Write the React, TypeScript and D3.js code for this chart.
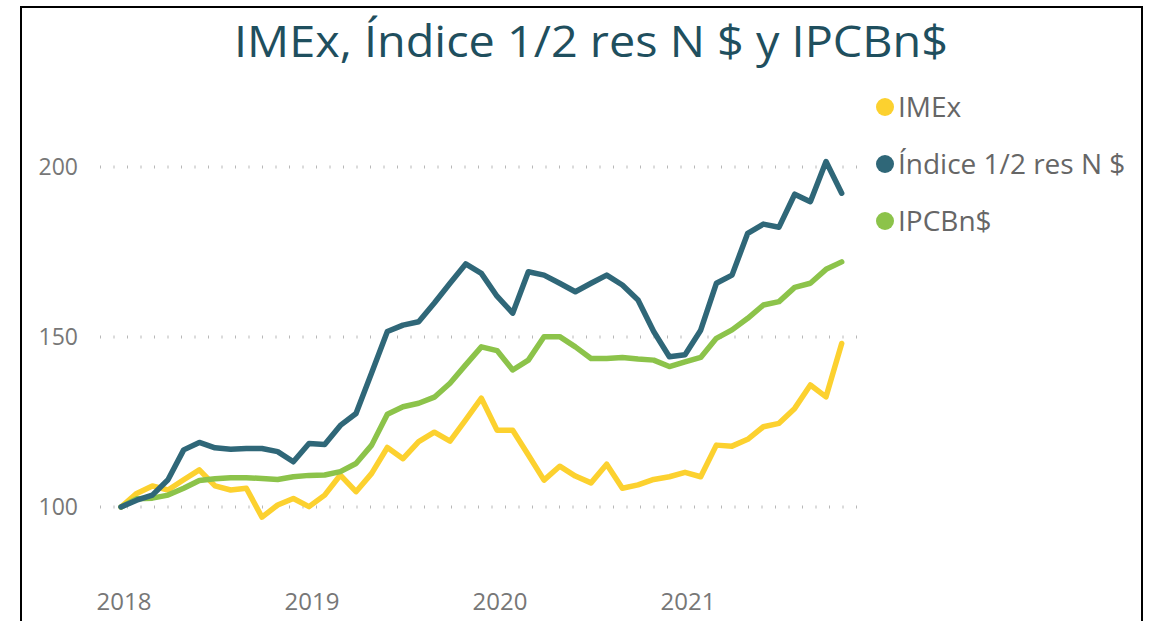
import React from "react";
import * as d3 from "d3";

const title = "IMEx, Índice 1/2 res N $ y IPCBn$";
const seriesNames = ["IMEx", "Índice 1/2 res N $", "IPCBn$"];
const seriesColors = ["#fcd12f", "#2f6778", "#8cc34a"];
const yearLabels = ["2018", "2019", "2020", "2021"];
const yTicks = [100, 150, 200];

const imex = [
  100, 104, 106.2, 105, 108, 110.9, 106.2, 105, 105.5, 97, 100.6, 102.5,
  100.1, 103.5, 109.4, 104.5, 109.9, 117.5, 114.2, 119.2, 122, 119.4, 125.6, 132,
  122.6, 122.6, 115.3, 107.9, 112, 109.1, 107.1, 112.6, 105.5, 106.5, 108.1, 108.9,
  110.2, 108.9, 118.2, 117.9, 119.9, 123.6, 124.6, 129, 135.9, 132.4, 148.1,
];
const indice = [
  100, 102, 103.5, 108, 116.8, 119, 117.4, 117, 117.2, 117.2, 116.3, 113.3,
  118.7, 118.4, 124, 127.5, 139.5, 151.6, 153.5, 154.5, 160, 165.8, 171.5, 168.7,
  162, 157, 169.2, 168.2, 165.8, 163.3, 165.8, 168.2, 165.3, 160.9, 151.6, 144.2,
  144.8, 152, 165.8, 168.2, 180.5, 183.2, 182.3, 192, 189.8, 201.6, 192.3,
];
const ipcbn = [
  100, 102.4, 102.6, 103.5, 105.5, 107.8, 108.3, 108.6, 108.6, 108.4, 108.1, 108.9,
  109.3, 109.4, 110.4, 112.8, 118.2, 127.3, 129.5, 130.5, 132.3, 136.4, 141.8, 147.1,
  146, 140.3, 143.2, 150.1, 150.1, 147.1, 143.7, 143.7, 144, 143.5, 143.2, 141.3,
  142.7, 144, 149.6, 152.1, 155.5, 159.4, 160.4, 164.6, 165.8, 169.9, 172.1,
];

const allSeries = [imex, indice, ipcbn];

export default function App() {
  const W = 1158;
  const H = 621;
  const n = imex.length;
  const x = d3.scaleLinear().domain([0, n - 1]).range([121, 841.7]);
  const y = d3.scaleLinear().domain([100, 200]).range([507, 167]);
  const line = d3
    .line<number>()
    .x((_, i) => x(i))
    .y((d) => y(d))
    .curve(d3.curveLinear);

  const font = "'Segoe UI', 'Open Sans', sans-serif";
  const drawOrder = [0, 2, 1];

  return (
    <div style={{ position: "fixed", left: 0, top: 0 }}>
      <svg width={W} height={H} style={{ display: "block", background: "#fff" }}>
        <rect x={21} y={7} width={1121} height={H + 20} fill="#fff" stroke="#000" strokeWidth={2} />
        <text
          x={591}
          y={57}
          textAnchor="middle"
          fontFamily={font}
          fontSize={44}
          textLength={714}
          lengthAdjust="spacingAndGlyphs"
          fill="#1f4f5e"
        >
          {title}
        </text>
        {yTicks.map((t) => (
          <g key={t}>
            <line
              x1={100}
              x2={860}
              y1={y(t)}
              y2={y(t)}
              stroke="#b8b8b8"
              strokeWidth={3}
              strokeDasharray="1 12.5"
            />
            <text
              x={78}
              y={y(t)}
              dy="0.35em"
              textAnchor="end"
              fontFamily={font}
              fontSize={23}
              fill="#777"
            >
              {t}
            </text>
          </g>
        ))}
        {yearLabels.map((lab, k) => (
          <text
            key={lab}
            x={x(k * 12) + 3}
            y={602}
            dy="0.35em"
            textAnchor="middle"
            fontFamily={font}
            fontSize={24}
            fill="#777"
          >
            {lab}
          </text>
        ))}
        {drawOrder.map((si) => (
          <path
            key={si}
            d={line(allSeries[si]) || ""}
            fill="none"
            stroke={seriesColors[si]}
            strokeWidth={5.5}
            strokeLinejoin="round"
            strokeLinecap="round"
          />
        ))}
        {seriesNames.map((name, i) => (
          <g key={name} transform={`translate(885, ${107 + i * 57})`}>
            <circle r={9} fill={seriesColors[i]} />
            <text
              x={13}
              dy="0.36em"
              fontFamily={font}
              fontSize={28}
              fill="#666"
            >
              {name}
            </text>
          </g>
        ))}
      </svg>
    </div>
  );
}
